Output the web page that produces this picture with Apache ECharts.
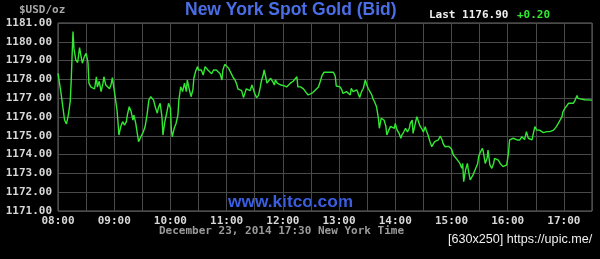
<!DOCTYPE html>
<html>
<head>
<meta charset="utf-8">
<script src="https://cdn.jsdelivr.net/npm/echarts@6/dist/echarts.min.js"></script>
<style>
html,body{margin:0;padding:0;background:#000;}
#c{width:600px;height:259px;}
</style>
</head>
<body>
<div id="c"></div>
<script>
// minutes after 08:00 New York time
const minutes = [0,3,7,9,11,13,14,15,16,17,19,21,23,25,26,28,30,32,33,35,37,39,41,42,44,46,48,49,51,53,55,57,58,60,61,63,64,65,67,69,71,73,74,76,78,80,81,83,84,86,88,90,91,93,95,97,99,102,104,106,107,109,111,112,114,116,118,120,121,122,124,126,128,129,131,133,135,137,138,140,142,144,145,147,149,150,152,153,155,157,159,160,162,164,166,168,169,171,173,175,176,178,180,182,184,185,187,189,191,192,194,196,198,200,201,203,205,207,208,210,212,214,216,217,219,220,222,223,225,227,229,231,232,234,236,238,239,241,244,246,248,249,251,253,255,256,258,259,262,264,265,267,269,272,274,278,280,282,284,290,294,296,297,299,301,303,304,306,308,310,312,313,315,317,319,320,322,324,326,328,329,331,333,335,336,338,340,342,343,345,346,348,350,351,353,355,357,359,360,362,364,366,367,369,371,373,375,376,378,379,381,383,385,386,388,390,392,393,395,397,399,401,402,404,406,408,410,411,413,415,417,418,420,422,424,425,427,429,431,432,433,435,437,438,440,441,443,445,448,449,451,453,454,456,458,459,461,463,465,466,468,470,472,474,475,477,479,481,482,484,486,488,490,491,493,495,497,498,500,502,504,506,507,509,511,513,514,516,518,520,522,525,527,529,530,532,534,536,538,539,541,543,545,546,550,552,554,555,557,562,570];
const prices = [1178.32,1177.35,1175.84,1175.63,1176.10,1176.81,1177.80,1179.20,1180.54,1179.65,1179.03,1178.90,1179.69,1179.12,1178.86,1179.20,1179.39,1178.90,1177.80,1177.60,1177.70,1177.49,1178.14,1177.60,1177.90,1177.35,1177.80,1178.14,1177.70,1177.60,1177.50,1177.80,1178.10,1178.00,1177.08,1176.37,1175.75,1175.04,1175.49,1175.75,1175.57,1175.75,1176.10,1176.55,1176.30,1175.84,1176.10,1175.66,1175.75,1174.69,1174.90,1175.00,1175.20,1175.49,1176.10,1176.90,1177.08,1176.90,1176.50,1176.20,1176.46,1176.73,1176.00,1175.04,1175.75,1176.20,1176.73,1176.46,1175.30,1174.95,1175.40,1175.66,1176.10,1176.90,1177.61,1177.35,1177.80,1177.35,1177.97,1177.50,1177.08,1177.45,1178.06,1178.45,1178.68,1178.50,1178.60,1178.50,1178.23,1178.68,1178.60,1178.50,1178.40,1178.30,1178.50,1178.59,1178.50,1178.60,1178.30,1177.97,1178.50,1178.80,1178.75,1178.60,1178.40,1178.30,1178.10,1177.97,1177.70,1177.50,1177.60,1177.40,1177.03,1177.35,1177.50,1177.60,1177.40,1177.70,1177.60,1177.25,1177.03,1177.15,1177.60,1177.90,1178.23,1178.50,1178.06,1177.80,1177.90,1178.06,1177.90,1177.70,1177.97,1177.80,1177.90,1177.70,1177.80,1177.67,1177.60,1177.50,1177.80,1177.70,1177.90,1177.80,1178.14,1177.60,1177.50,1177.60,1177.50,1177.40,1177.30,1177.17,1177.25,1177.30,1177.40,1177.60,1177.90,1178.23,1178.38,1178.38,1178.38,1178.15,1177.65,1177.60,1177.60,1177.44,1177.26,1177.26,1177.35,1177.44,1177.17,1177.53,1177.35,1177.26,1177.44,1177.35,1177.04,1177.35,1177.53,1177.97,1177.80,1177.53,1177.35,1177.17,1176.99,1176.80,1176.55,1175.93,1175.40,1175.93,1176.00,1175.84,1175.50,1175.04,1175.30,1175.50,1175.57,1175.40,1175.66,1175.30,1175.13,1174.87,1175.04,1175.20,1175.40,1175.20,1175.40,1175.66,1175.84,1175.13,1175.57,1176.02,1175.93,1175.57,1175.40,1175.20,1175.48,1175.30,1175.04,1174.69,1174.42,1174.50,1174.69,1174.60,1174.78,1174.99,1174.78,1174.60,1174.42,1174.50,1174.44,1174.37,1174.30,1173.98,1174.06,1173.80,1173.90,1173.53,1173.27,1173.53,1172.56,1173.18,1173.53,1173.18,1172.65,1172.74,1172.92,1173.00,1173.53,1173.90,1174.15,1174.33,1174.15,1173.53,1173.80,1174.24,1173.45,1173.27,1173.53,1173.80,1173.80,1173.71,1173.53,1173.45,1173.36,1173.27,1173.45,1174.15,1174.78,1174.70,1174.87,1174.95,1174.78,1174.87,1174.78,1174.95,1175.04,1174.80,1175.22,1174.87,1174.95,1174.78,1175.04,1175.49,1175.30,1175.22,1175.30,1175.35,1175.17,1175.13,1175.22,1175.22,1175.27,1175.30,1175.40,1175.49,1175.66,1175.84,1176.02,1176.28,1176.46,1176.55,1176.73,1176.70,1176.73,1176.90,1177.14,1176.99,1176.95,1176.92,1176.90];
const xTickLabels = ['08:00','09:00','10:00','11:00','12:00','13:00','14:00','15:00','16:00','17:00'];
const yMin = 1171, yMax = 1181;

const mono = '"DejaVu Sans Mono", monospace';
const chart = echarts.init(document.getElementById('c'), null, {renderer: 'canvas'});
chart.setOption({
  backgroundColor: '#000',
  animation: false,
  grid: {left: 58, right: 8, top: 23, bottom: 48, show: true, borderColor: '#6a6a6a', borderWidth: 1},
  xAxis: {
    type: 'value', min: 0, max: 570, interval: 30,
    axisLine: {show: false}, axisTick: {show: false},
    splitLine: {show: true, lineStyle: {color: '#4a4a4a', width: 1}},
    axisLabel: {
      color: '#d8d8d8', fontFamily: mono, fontWeight: 'bold', fontSize: 11, margin: 5,
      showMaxLabel: false,
      formatter: v => (v % 60 === 0 ? (xTickLabels[v / 60] || '') : '')
    }
  },
  yAxis: {
    type: 'value', min: yMin, max: yMax, interval: 1,
    axisLine: {show: false}, axisTick: {show: false},
    splitLine: {show: true, lineStyle: {color: '#4a4a4a', width: 1}},
    axisLabel: {color: '#d8d8d8', fontFamily: mono, fontWeight: 'bold', fontSize: 11, margin: 6,
      formatter: v => v.toFixed(2)}
  },
  series: [{
    type: 'line', showSymbol: false, symbol: 'none',
    data: minutes.map((m, i) => [m, prices[i]]),
    lineStyle: {color: '#33e833', width: 1.4},
    silent: true
  }],
  graphic: [
    {type: 'text', left: 19, top: 5, style: {text: '$USD/oz', fill: '#a8a8a8', font: 'bold 11px ' + mono}},
    {type: 'text', left: 185, top: 1, style: {text: 'New York Spot Gold (Bid)', fill: '#4a6ee6', font: 'bold 17.5px "Liberation Sans", Arial, sans-serif'}},
    {type: 'text', left: 429, top: 10, style: {text: 'Last 1176.90', fill: '#f0f0f0', font: 'bold 11px ' + mono}},
    {type: 'text', left: 517, top: 10, style: {text: '+0.20', fill: '#33e833', font: 'bold 11px ' + mono}},
    {type: 'text', left: 228, top: 194, style: {text: 'www.kitco.com', fill: '#3a5ee0', font: 'bold 17.3px "Liberation Sans", Arial, sans-serif'}},
    {type: 'text', left: 159, top: 226, style: {text: 'December 23, 2014 17:30 New York Time', fill: '#9a9a9a', font: 'bold 11px ' + mono}},
    {type: 'text', left: 448, top: 233, style: {text: '[630x250] https://upic.me/', fill: '#f0f0f0', font: '12.6px "Liberation Sans", Arial, sans-serif'}}
  ]
});
</script>
</body>
</html>
